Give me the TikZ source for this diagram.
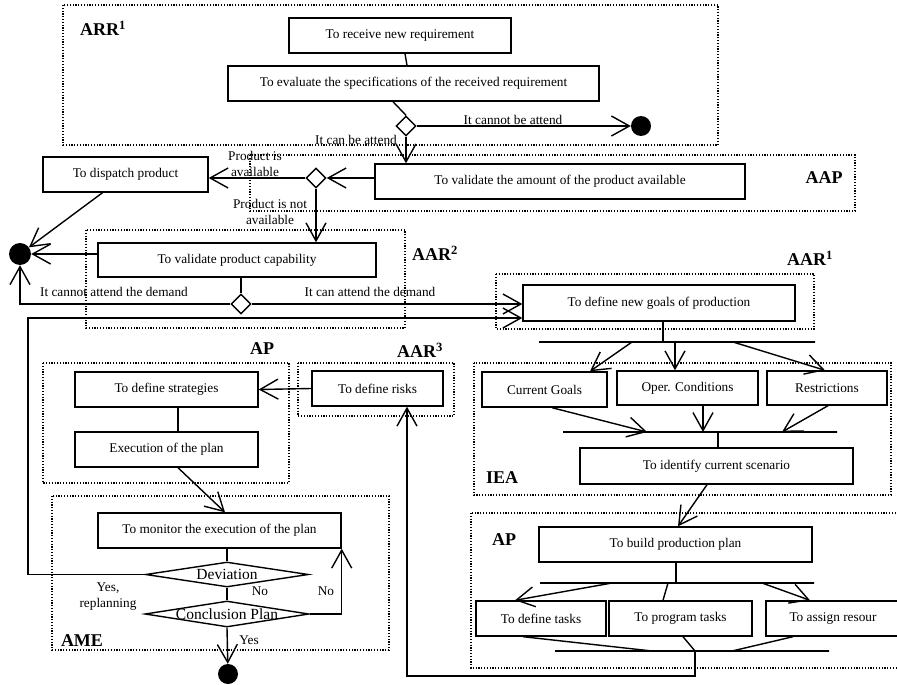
\documentclass[tikz,border=0pt]{standalone}
\usepackage{fontspec}
\setmainfont{Liberation Serif}
\usetikzlibrary{arrows.meta,shapes.geometric,positioning}
\tikzset{>={Straight Barb[length=18pt,width=20pt]}}
\tikzset{
  % activity boxes and decisions
  box/.style={draw, line width=1.4pt, minimum height=35pt, inner sep=2pt, font=\fontsize{13.3}{16}\selectfont},
  decide/.style={diamond, draw, fill=white, line width=1.4pt, minimum width=20pt, minimum height=20pt, inner sep=0pt},
  bigdecide/.style={diamond, draw, line width=1.4pt, aspect=6.5, inner sep=0pt, font=\fontsize{15.5}{17}\selectfont},
  final/.style={circle, fill, inner sep=0pt, minimum size=20pt},
  bar/.style={draw, line width=1.4pt, inner sep=0pt, minimum height=0pt},
  % swimlane frames and their names
  lane/.style={line width=1.2pt, dash pattern=on 1.2pt off 1.6pt},
  region/.style={font=\fontsize{18}{20}\selectfont\bfseries},
  note/.style={font=\fontsize{13.3}{16}\selectfont, inner sep=1pt, align=center},
  flow/.style={line width=1.4pt},
}
\begin{document}
\begin{tikzpicture}[x=1pt,y=-1pt]
                \useasboundingbox (0,0) rectangle (897,685);

                \foreach \xa/\ya/\xb/\yb in {63/5/718/145, 250/155/855/211, 86/230/405/328, 496/274/814/329, 43/363/289/483, 298/363/454/416, 474/363/891/495, 52/496/389/650, 471/513/905/668}
                \draw[lane] (\xa,\ya) rectangle (\xb,\yb);

                \foreach \n/\x/\y/\t in {arr/103/28/ARR\textsuperscript{1}, aap/824/178/AAP, aarb/435/253/AAR\textsuperscript{2}, aara/810/258/AAR\textsuperscript{1}, apa/262/349/AP, aarc/420/350/AAR\textsuperscript{3}, iea/502/478/IEA, ame/82/641/AME, apb/504/540/AP}
                \node[region] (\n) at (\x,\y) {\t};

                \node[box, minimum width=222pt] (recv) at (400,35.5) {To receive new requirement};
                \node[box, minimum width=371pt] (eval) at (413.5,83.5) {To evaluate the specifications of the received requirement};
                \node[decide] (dec1) at (406,126) {};
                \node[final] (endA) at (641,126) {};
                \node[box, minimum width=370pt] (valamt) at (560,181.5) {To validate the amount of the product available};
                \node[decide] (dec2) at (316,178) {};
                \node[box, minimum width=165pt] (disp) at (125.5,174.5) {To dispatch product};
                \node[box, minimum width=278pt, minimum height=34pt] (valcap) at (237,260) {To validate product capability};
                \node[final, minimum size=22pt] (merge) at (20,254) {};
                \node[decide] (dec3) at (241,304) {};
                \node[box, minimum width=272pt, minimum height=36pt] (goals) at (659,303) {To define new goals of production};

                \node[bar, minimum width=276pt] (fork1) at (677,342) {};
                \node[box, minimum width=125pt] (curgoals) at (544.5,389.5) {Current Goals};
                \node[box, minimum width=141pt, minimum height=34pt] (oper) at (687.5,388) {Oper. Conditions};
                \node[box, minimum width=120pt, minimum height=34pt] (restr) at (827,388) {Restrictions};
                \node[bar, minimum width=274pt] (join1) at (700,432) {};
                \node[box, minimum width=273pt, minimum height=36pt] (scen) at (716.5,466) {To identify current scenario};
                \node[box, minimum width=273pt] (build) at (675.5,544.5) {To build production plan};
                \node[bar, minimum width=274pt] (fork2) at (677,583) {};
                \node[box, minimum width=130pt] (deftasks) at (541,618.5) {To define tasks};
                \node[box, minimum width=143pt] (progtasks) at (680.5,618.5) {To program tasks};
                \node[box, minimum width=134pt] (assign) at (833,618.5) {To assign resour};
                \node[bar, minimum width=274pt] (join2) at (692,651) {};

                \node[box, minimum width=131pt] (risks) at (377.5,388.5) {To define risks};
                \node[box, minimum width=183pt] (strat) at (166.5,389.5) {To define strategies};
                \node[box, minimum width=183pt] (exec) at (166.5,449.5) {Execution of the plan};
                \node[box, minimum width=243pt] (monitor) at (219.5,530.5) {To monitor the execution of the plan};
                \node[bigdecide, minimum width=163pt, minimum height=25pt] (devi) at (227,574.5) {\makebox[0pt]{Deviation}};
                \node[bigdecide, minimum width=164pt, minimum height=26pt] (conc) at (227,614) {\makebox[0pt]{Conclusion Plan}};
                \node[final] (endB) at (228,674) {};

                % requirement and availability
                \draw[flow] ([xshift=5pt]recv.south) -- ([xshift=-6.5pt]eval.north);
                \draw[flow] ([xshift=-20.5pt]eval.south) -- (dec1.north);
                \draw[flow,->] (dec1.east) -- node[note, above, pos=0.45] (lbl1) {It cannot be attend} (endA);
                \draw[flow,->] (dec1.south) -- (dec1.south |- valamt.north);
                \node[note] (lbl2) at (356,140) {It can be attend};
                \draw[flow,->] (valamt.west |- dec2) -- (dec2.east);
                \draw[flow,->] (dec2.west) -- (dec2.west -| disp.east);
                \node[note] (lbl3) at (255,164) {Product is\\available};
                \draw[flow,->] (dec2.south) -- (dec2.south |- valcap.north);
                \node[note] (lbl4) at (270,212) {Product is not\\available};
                \draw[flow,->] ([xshift=-23pt]disp.south) -- (merge);
                \draw[flow,->] (valcap.west |- merge) -- (merge);
                \draw[flow] ([xshift=4pt]valcap.south) -- (dec3.north);
                \draw[flow,->] (dec3.west) -- (dec3.west -| merge) -- (merge);
                \node[note] (lbl5) at (114,292) {It cannot attend the demand};
                \draw[flow,->] (dec3.east) -- (dec3.east -| goals.west);
                \node[note] (lbl6) at (370,292) {It can attend the demand};
                \coordinate (loopL) at (28,318);
                \draw[flow,->] (devi.west) -| (loopL) -- (loopL -| goals.west);
                \node[note] (lbl7) at (108,597) {Yes,\\replanning};

                % new goals and scenario
                \draw[flow] ([xshift=4pt]goals.south) -- ([xshift=4pt]goals.south |- fork1.center);
                \draw[flow,->] ([xshift=-45pt]fork1.center) -- ([xshift=45.5pt]curgoals.north);
                \draw[flow,->] ([xshift=-2pt]fork1.center) -- ([xshift=-12.5pt]oper.north);
                \draw[flow,->] ([xshift=56pt]fork1.center) -- ([xshift=-2pt]restr.north);
                \draw[flow,->] ([xshift=7.5pt]curgoals.south) -- ([xshift=-53pt]join1.center);
                \draw[flow,->] ([xshift=15.5pt]oper.south) -- ([xshift=3pt]join1.center);
                \draw[flow,->] ([xshift=1pt]restr.south) -- ([xshift=82pt]join1.center);
                \draw[flow] ([xshift=1.5pt]join1.center -| scen.north) -- ([xshift=1.5pt]scen.north);
                \draw[flow,->] ([xshift=-9.5pt]scen.south) -- ([xshift=2.5pt]build.north);

                % production plan
                \draw[flow] ([xshift=0.5pt]build.south) -- ([xshift=0.5pt]build.south |- fork2.center);
                \draw[flow,->] ([xshift=-65pt]fork2.center) -- ([xshift=-26pt]deftasks.north);
                \draw[flow] ([xshift=-9pt]fork2.center) -- ([xshift=-17.5pt]progtasks.north);
                \draw[flow,->] ([xshift=85pt]fork2.center) -- ([xshift=-23pt]assign.north);
                \draw[flow] ([xshift=-18pt]deftasks.south) -- ([xshift=-40pt]join2.center);
                \draw[flow] ([xshift=2.5pt]progtasks.south) -- ([xshift=3pt]join2.center);
                \draw[flow] ([xshift=-40pt]assign.south) -- ([xshift=40pt]join2.center);
                \draw[flow,->] ([xshift=3pt]join2.center) -- ++(0,25) -| ([xshift=29.5pt]risks.south);

                % risks, strategies and monitoring
                \draw[flow,->] (risks.west) -- (strat.east);
                \draw[flow] ([xshift=11.5pt]strat.south) -- ([xshift=11.5pt]exec.north);
                \draw[flow,->] ([xshift=11.5pt]exec.south) -- ([xshift=5.5pt]monitor.north);
                \draw[flow] ([xshift=7.5pt]monitor.south) -- (devi.north);
                \draw[flow] (devi.south) -- (conc.north);
                \node[note] (lbl8) at (260,591) {No};
                \draw[flow,->] (conc.east) -| (monitor.south east);
                \node[note] (lbl9) at (326,591) {No};
                \draw[flow,->] (conc.south) -- (endB);
                \node[note] (lbl10) at (249,640) {Yes};
            \end{tikzpicture}
\end{document}
